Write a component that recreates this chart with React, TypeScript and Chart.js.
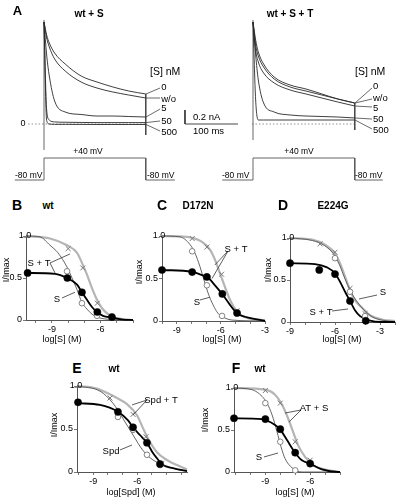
import React, { useEffect, useRef } from 'react';
import { Chart, registerables } from 'chart.js';

Chart.register(...registerables);

const FONT = '"Liberation Sans", Arial, Helvetica, sans-serif';
type Pt = [number, number];

// ================= Panel A data (current traces, nA vs ms) =================
const traceTimesMs = [0, 5, 10, 20, 40, 70, 100, 130, 160, 192];
const concLabels = ['0', 'w/o', '5', '50', '500'];
const wtS_0nM = [1.457, 1.271, 1.157, 1.014, 0.857, 0.686, 0.6, 0.529, 0.471, 0.429];
const wtS_wo = [1.457, 1.229, 1.1, 0.929, 0.757, 0.6, 0.514, 0.457, 0.414, 0.371];
const wtS_5nM = [1.457, 0.986, 0.686, 0.329, 0.171, 0.136, 0.114, 0.114, 0.107, 0.1];
const wtS_50nM = [1.457, 0.2, 0.057, 0.03, 0.025, 0.022, 0.02, 0.02, 0.02, 0.02];
const wtS_500nM = [1.457, 0.05, 0.0, -0.005, -0.005, -0.006, -0.007, -0.007, -0.007, -0.007];
const wtST_0nM = [1.457, 1.2, 1.029, 0.857, 0.671, 0.557, 0.5, 0.429, 0.357, 0.3];
const wtST_wo = [1.457, 1.129, 0.971, 0.814, 0.643, 0.529, 0.471, 0.414, 0.357, 0.3];
const wtST_5nM = [1.457, 1.057, 0.886, 0.729, 0.586, 0.486, 0.429, 0.371, 0.314, 0.257];
const wtST_50nM = [1.457, 0.986, 0.629, 0.3, 0.171, 0.129, 0.114, 0.107, 0.1, 0.086];
const wtST_500nM = [1.457, 0.343, 0.057, 0.057, 0.057, 0.057, 0.057, 0.057, 0.057, 0.057];
const tailDropNa = [-0.157, -0.086]; // tail current at pulse end (left, right)
const protocolTimesLeft = [-55, 0, 0, 192, 192, 247];
const protocolTimesRight = [-58, 0, 0, 192, 192, 245];
const protocolMv = [-80, -80, 40, 40, -80, -80];
const scaleBarMs = 100;
const scaleBarNa = 0.2;

// ================= Dose-response data (log[S] M, I/Imax) =================
const B_filled: Pt[] = [[-10.5, 0.56], [-8.05, 0.5], [-7.15, 0.33], [-6.2, 0.095], [-5.3, 0.036]];
const B_cross: Pt[] = [[-8.0, 0.85], [-7.1, 0.62], [-6.2, 0.2], [-5.3, 0.03]];
const B_open: Pt[] = [[-8.07, 0.58], [-7.15, 0.2], [-6.22, 0.05]];
const B_fitBlack: Pt[] = [[-10.6, 0.56], [-8.8, 0.55], [-8.07, 0.5], [-7.45, 0.42], [-7.15, 0.33], [-6.84, 0.24], [-6.53, 0.155], [-6.22, 0.095], [-5.85, 0.05], [-5.29, 0.03], [-4.62, 0.005], [-4.0, 0]];
const B_fitGray: Pt[] = [[-10.6, 1.0], [-9.12, 0.97], [-8.07, 0.89], [-7.45, 0.8], [-7.15, 0.68], [-6.84, 0.54], [-6.53, 0.38], [-6.22, 0.24], [-5.91, 0.14], [-5.6, 0.08], [-5.23, 0.035], [-4.62, 0.01], [-4.0, 0]];
const B_fitThin: Pt[] = [[-10.6, 1.0], [-9.74, 0.99], [-9.12, 0.89], [-8.63, 0.8], [-8.07, 0.63], [-7.76, 0.5], [-7.45, 0.36], [-7.15, 0.21], [-6.84, 0.13], [-6.53, 0.07], [-6.22, 0.035], [-5.6, 0.01], [-4.0, 0]];

const C_filled: Pt[] = [[-10, 0.6], [-7.95, 0.576], [-6.95, 0.518], [-5.9, 0.318], [-4.9, 0.094]];
const C_cross: Pt[] = [[-7.95, 0.97], [-6.95, 0.87], [-5.95, 0.55], [-4.9, 0.12]];
const C_open: Pt[] = [[-7.95, 0.82], [-6.95, 0.42], [-5.92, 0.06]];
const C_fitBlack: Pt[] = [[-10, 0.6], [-7.96, 0.58], [-7.28, 0.54], [-6.94, 0.52], [-6.4, 0.42], [-5.92, 0.32], [-5.38, 0.19], [-4.9, 0.09], [-4.36, 0.05], [-3.54, 0.02], [-3, 0]];
const C_fitGray: Pt[] = [[-10, 1.0], [-8.3, 0.99], [-7.28, 0.93], [-6.74, 0.84], [-6.4, 0.72], [-6.06, 0.56], [-5.72, 0.4], [-5.38, 0.25], [-4.9, 0.11], [-4.22, 0.035], [-3.13, 0.01], [-3, 0.005]];
const C_fitThin: Pt[] = [[-10, 1.0], [-8.78, 0.99], [-8.1, 0.9], [-7.76, 0.8], [-7.42, 0.64], [-7.14, 0.48], [-6.87, 0.33], [-6.53, 0.19], [-6.19, 0.09], [-5.72, 0.035], [-5.17, 0.01], [-3, 0]];

const D_filled: Pt[] = [[-9, 0.7], [-7.05, 0.62], [-6, 0.57], [-5, 0.25], [-3.95, 0.015]];
const D_cross: Pt[] = [[-7, 0.93], [-6, 0.83], [-5, 0.4], [-4, 0.1]];
const D_open: Pt[] = [[-6, 0.76], [-5, 0.36], [-4, 0.07]];
const D_fitBlack: Pt[] = [[-9, 0.7], [-7.33, 0.69], [-6.53, 0.65], [-6, 0.58], [-5.67, 0.48], [-5.33, 0.36], [-5, 0.25], [-4.67, 0.14], [-4.33, 0.07], [-3.73, 0.02], [-2.87, 0], [-2, 0]];
const D_fitGray: Pt[] = [[-9, 1.0], [-7.53, 0.98], [-6.67, 0.92], [-6.07, 0.83], [-5.67, 0.7], [-5.33, 0.54], [-5, 0.38], [-4.67, 0.26], [-4.2, 0.17], [-3.67, 0.08], [-2.87, 0.03], [-2, 0.01]];
const D_fitThin: Pt[] = [[-9, 1.0], [-7.5, 0.97], [-6.7, 0.91], [-6.1, 0.81], [-5.7, 0.68], [-5.35, 0.52], [-5.0, 0.38], [-4.6, 0.26], [-4.1, 0.15], [-3.5, 0.06], [-2.8, 0.02], [-2, 0.005]];

const E_filled: Pt[] = [[-10.03, 0.81], [-7.31, 0.7], [-6.28, 0.52], [-5.33, 0.34], [-4.44, 0.093]];
const E_cross: Pt[] = [[-7.85, 0.86], [-6.28, 0.67], [-5.4, 0.41], [-4.31, 0.1]];
const E_open: Pt[] = [[-7.31, 0.64], [-6.28, 0.49], [-5.33, 0.2], [-4.44, 0.08]];
const E_fitBlack: Pt[] = [[-10.1, 0.8], [-8.53, 0.78], [-7.31, 0.7], [-6.62, 0.6], [-6.28, 0.52], [-5.81, 0.43], [-5.33, 0.34], [-4.92, 0.22], [-4.65, 0.16], [-4.24, 0.08], [-3.56, 0.045], [-2.6, 0.01]];
const E_fitGray: Pt[] = [[-10.1, 1.0], [-8.74, 0.97], [-7.37, 0.86], [-6.69, 0.79], [-6.01, 0.66], [-5.6, 0.51], [-5.26, 0.39], [-4.65, 0.23], [-3.97, 0.14], [-3.28, 0.08], [-2.6, 0.03]];
const E_fitThin: Pt[] = [[-10.1, 1.0], [-8.53, 0.94], [-7.65, 0.8], [-6.96, 0.62], [-6.28, 0.43], [-5.6, 0.25], [-4.92, 0.14], [-3.97, 0.07], [-3.08, 0.02], [-2.6, 0.01]];

const F_filled: Pt[] = [[-11.1, 0.64], [-9, 0.63], [-8, 0.51], [-7, 0.23], [-6, 0.1]];
const F_cross: Pt[] = [[-9, 0.97], [-8, 0.82], [-7, 0.36], [-6, 0.14]];
const F_open: Pt[] = [[-9, 0.82], [-8, 0.36], [-7, 0.02]];
const F_fitBlack: Pt[] = [[-11.1, 0.64], [-9.22, 0.63], [-8.35, 0.56], [-8.02, 0.51], [-7.55, 0.38], [-7.01, 0.23], [-6.55, 0.14], [-6.01, 0.1], [-5.21, 0.03], [-4.13, 0], [-4, 0]];
const F_fitGray: Pt[] = [[-11.1, 1.0], [-9.02, 0.98], [-8.35, 0.92], [-7.88, 0.8], [-7.48, 0.64], [-7.15, 0.48], [-6.81, 0.32], [-6.34, 0.18], [-5.81, 0.08], [-5.0, 0.03], [-4.0, 0]];
const F_fitThin: Pt[] = [[-11.1, 1.0], [-9.89, 0.98], [-9.22, 0.9], [-8.89, 0.82], [-8.55, 0.68], [-8.22, 0.48], [-7.95, 0.3], [-7.68, 0.16], [-7.21, 0.05], [-6.55, 0], [-4.0, 0]];

// ================= helpers =================
type Note = { text: string; x: number; y: number; dx?: number; dy?: number; size?: number; align?: CanvasTextAlign; rot?: number; yAxis?: string };
type Leader = { pts: Pt[]; yAxis?: string; color?: string; width?: number; dash?: number[] };

function notesPlugin(texts: Note[], leaders: Leader[]) {
  return {
    id: 'notes',
    afterDatasetsDraw(chart: any) {
      const ctx: CanvasRenderingContext2D = chart.ctx;
      const xs = chart.scales.x;
      for (const l of leaders) {
        const ys = chart.scales[l.yAxis || 'y'];
        ctx.save();
        ctx.strokeStyle = l.color || '#333';
        ctx.lineWidth = l.width || 0.8;
        if (l.dash) ctx.setLineDash(l.dash);
        ctx.beginPath();
        l.pts.forEach((p, i) => {
          const X = xs.getPixelForValue(p[0]);
          const Y = ys.getPixelForValue(p[1]);
          if (i) ctx.lineTo(X, Y); else ctx.moveTo(X, Y);
        });
        ctx.stroke();
        ctx.restore();
      }
      for (const t of texts) {
        const ys = chart.scales[t.yAxis || 'y'];
        const X = xs.getPixelForValue(t.x) + (t.dx || 0);
        const Y = ys.getPixelForValue(t.y) + (t.dy || 0);
        ctx.save();
        ctx.font = `${t.size || 9}px ${FONT}`;
        ctx.fillStyle = '#000';
        ctx.textAlign = t.align || 'center';
        ctx.textBaseline = 'middle';
        ctx.translate(X, Y);
        if (t.rot) ctx.rotate((t.rot * Math.PI) / 180);
        ctx.fillText(t.text, 0, 0);
        ctx.restore();
      }
    },
  };
}

const xy = (pts: Pt[]) => pts.map(([x, y]) => ({ x, y }));
const zipXY = (xs: number[], ys: number[]) => xs.map((x, i) => ({ x, y: ys[i] }));

function lineDS(data: any[], color: string, width: number, extra: any = {}) {
  return {
    data,
    showLine: true,
    borderColor: color,
    borderWidth: width,
    pointRadius: 0,
    cubicInterpolationMode: 'monotone',
    clip: false,
    ...extra,
  };
}

// ================= Panel A layout =================
const A_H = 190;
const PX_PER_MS = 0.53;
const PX_PER_NA = 70;
const Y_PLUS40 = 158;
const Y_MINUS80 = 180;

type TraceSide = {
  canvasLeft: number; width: number; t0X: number; zeroY: number;
  traces: number[][]; protoT: number[]; tail: number;
  labelT: number; leaderEndT: number; labelNa: number[]; leaderEndNa: number[];
  headT: number; plus40T: number; minus80LeftT: number; minus80RightT: number;
  onsetBottom: number; zeroFromT: number; scaleBarT?: number; zeroLabelT?: number;
};

const leftSide: TraceSide = {
  canvasLeft: 0, width: 245, t0X: 44, zeroY: 124,
  traces: [wtS_0nM, wtS_wo, wtS_5nM, wtS_50nM, wtS_500nM],
  protoT: protocolTimesLeft, tail: tailDropNa[0],
  labelT: 221, leaderEndT: 219, labelNa: [0.529, 0.357, 0.229, 0.043, -0.114], leaderEndNa: [0.514, 0.371, 0.214, 0.043, -0.1],
  headT: 200, plus40T: 83, minus80LeftT: -54.7, minus80RightT: 194.3,
  onsetBottom: -0.37, zeroFromT: -30, scaleBarT: 266, zeroLabelT: -39.6,
};
const rightSide: TraceSide = {
  canvasLeft: 200, width: 197, t0X: 253, zeroY: 124,
  traces: [wtST_0nM, wtST_wo, wtST_5nM, wtST_50nM, wtST_500nM],
  protoT: protocolTimesRight, tail: tailDropNa[1],
  labelT: 226.4, leaderEndT: 224.5, labelNa: [0.543, 0.371, 0.229, 0.071, -0.086], leaderEndNa: [0.514, 0.357, 0.243, 0.071, -0.071],
  headT: 192.5, plus40T: 86.8, minus80LeftT: -58.5, minus80RightT: 192.5,
  onsetBottom: -0.23, zeroFromT: -2,
};

function traceConfig(s: TraceSide) {
  const xMin = -(s.t0X - s.canvasLeft) / PX_PER_MS;
  const xMax = (s.canvasLeft + s.width - s.t0X) / PX_PER_MS;
  const yMax = s.zeroY / PX_PER_NA;
  const yMin = -(A_H - s.zeroY) / PX_PER_NA;
  const mvPerPx = 120 / (Y_MINUS80 - Y_PLUS40);
  const vMax = 40 + Y_PLUS40 * mvPerPx;
  const vMin = -80 - (A_H - Y_MINUS80) * mvPerPx;
  const endT = traceTimesMs[traceTimesMs.length - 1];
  const lastVals = s.traces.map((t) => t[t.length - 1]);
  const topVal = Math.max(...s.traces.map((t) => t[0]));

  const datasets: any[] = s.traces.map((tr) => lineDS(zipXY(traceTimesMs, tr), '#2a2a2a', 0.9));
  datasets.push(lineDS([{ x: 0, y: s.onsetBottom }, { x: 0, y: topVal + 0.03 }], '#555', 0.9, { cubicInterpolationMode: 'default' }));
  datasets.push(lineDS([{ x: endT, y: Math.max(...lastVals) }, { x: endT, y: s.tail }], '#444', 0.9, { cubicInterpolationMode: 'default' }));
  datasets.push(lineDS([{ x: s.zeroFromT, y: 0 }, { x: endT, y: 0 }], '#888', 0.9, { borderDash: [1.5, 2], cubicInterpolationMode: 'default' }));
  datasets.push(lineDS(zipXY(s.protoT, protocolMv), '#555', 0.9, { yAxisID: 'yV', cubicInterpolationMode: 'default' }));
  if (s.scaleBarT !== undefined) {
    datasets.push(lineDS([
      { x: s.scaleBarT, y: scaleBarNa }, { x: s.scaleBarT, y: 0 }, { x: s.scaleBarT + scaleBarMs, y: 0 },
    ], '#333', 0.9, { cubicInterpolationMode: 'default' }));
  }

  const texts: Note[] = [
    { text: '[S] nM', x: s.headT, y: 0.743, size: 10.5, align: 'left' },
    ...concLabels.map((c, i) => ({ text: c, x: s.labelT, y: s.labelNa[i], size: 9.5, align: 'left' as CanvasTextAlign })),
    { text: '+40 mV', x: s.plus40T, y: 72.7, size: 8.5, yAxis: 'yV' },
    { text: '-80 mV', x: s.minus80LeftT, y: -58.2, size: 8.5, align: 'left', yAxis: 'yV' },
    { text: '-80 mV', x: s.minus80RightT, y: -58.2, size: 8.5, align: 'left', yAxis: 'yV' },
  ];
  if (s.zeroLabelT !== undefined) texts.push({ text: '0', x: s.zeroLabelT, y: 0, size: 9 });
  if (s.scaleBarT !== undefined) {
    texts.push({ text: `${scaleBarNa} nA`, x: s.scaleBarT + 15, y: 0.1, size: 9.5, align: 'left' });
    texts.push({ text: `${scaleBarMs} ms`, x: s.scaleBarT + 15, y: -0.1, size: 9.5, align: 'left' });
  }
  const leaders: Leader[] = concLabels.map((_, i) => ({
    pts: [[endT + 0.5, lastVals[i]], [s.leaderEndT, s.leaderEndNa[i]]] as Pt[],
    color: '#444', width: 0.8,
  }));

  return {
    type: 'scatter',
    data: { datasets },
    options: {
      responsive: false, animation: false, devicePixelRatio: 1, events: [],
      layout: { padding: 0, autoPadding: false },
      plugins: { legend: { display: false }, tooltip: { enabled: false } },
      scales: {
        x: { type: 'linear', display: false, min: xMin, max: xMax },
        y: { type: 'linear', display: false, min: yMin, max: yMax },
        yV: { type: 'linear', display: false, min: vMin, max: vMax },
      },
    },
    plugins: [notesPlugin(texts, leaders)],
  };
}

// ================= Dose panels layout =================
type DoseLayout = { axisX: number; xEnd: number; yTop: number; yBot: number; xMin: number; xMax: number; xLabels: number[] };
type DosePanel = {
  L: DoseLayout; filled: Pt[]; cross: Pt[]; open: Pt[]; fitBlack: Pt[]; fitGray: Pt[]; fitThin: Pt[];
  texts: Note[]; leaders: Leader[];
};
const AXW = 36, AXH = 28, PADT = 10, PADR = 8;

const panels: DosePanel[] = [
  {
    L: { axisX: 26, xEnd: 133, yTop: 236, yBot: 320, xMin: -10.6, xMax: -4.0, xLabels: [-9, -6] },
    filled: B_filled, cross: B_cross, open: B_open, fitBlack: B_fitBlack, fitGray: B_fitGray, fitThin: B_fitThin,
    texts: [
      { text: '1.0', x: -10.6, y: 1, dx: -1 },
      { text: 'I/Imax', x: -10.6, y: 0.595, dx: -19, rot: -90 },
      { text: 'log[S] (M)', x: -8.38, y: 0, dy: 20 },
      { text: 'S + T', x: -9.8, y: 0.679, size: 9.5 },
      { text: 'S', x: -8.69, y: 0.25, size: 9.5 },
    ],
    leaders: [
      { pts: [[-9.12, 0.679], [-7.89, 0.786]] },
      { pts: [[-9.12, 0.679], [-8.81, 0.56]] },
      { pts: [[-8.38, 0.262], [-7.58, 0.33]] },
    ],
  },
  {
    L: { axisX: 162, xEnd: 265, yTop: 236, yBot: 321, xMin: -10, xMax: -3, xLabels: [-9, -6, -3] },
    filled: C_filled, cross: C_cross, open: C_open, fitBlack: C_fitBlack, fitGray: C_fitGray, fitThin: C_fitThin,
    texts: [
      { text: '1.0', x: -10, y: 1, dx: -3 },
      { text: 'I/Imax', x: -10, y: 0.576, dx: -22, rot: -90 },
      { text: 'log[S] (M)', x: -5.92, y: 0, dy: 19 },
      { text: 'S + T', x: -4.97, y: 0.847, size: 9.5 },
      { text: 'S', x: -7.62, y: 0.224, size: 9.5 },
    ],
    leaders: [
      { pts: [[-5.51, 0.824], [-6.4, 0.66]] },
      { pts: [[-5.51, 0.824], [-6.6, 0.5]] },
      { pts: [[-7.42, 0.247], [-6.74, 0.28]] },
    ],
  },
  {
    L: { axisX: 290, xEnd: 395, yTop: 238, yBot: 322, xMin: -9, xMax: -2, xLabels: [-9, -6, -3] },
    filled: D_filled, cross: D_cross, open: D_open, fitBlack: D_fitBlack, fitGray: D_fitGray, fitThin: D_fitThin,
    texts: [
      { text: '1.0', x: -9, y: 1, dx: -2 },
      { text: 'I/Imax', x: -9, y: 0.619, dx: -21, rot: -90 },
      { text: 'log[S] (M)', x: -5.53, y: 0, dy: 18 },
      { text: 'S', x: -2.8, y: 0.357, size: 9.5 },
      { text: 'S + T', x: -6.93, y: 0.119, size: 9.5 },
    ],
    leaders: [
      { pts: [[-4.4, 0.274], [-3.2, 0.321]] },
      { pts: [[-6.2, 0.131], [-5.13, 0.155]] },
    ],
  },
  {
    L: { axisX: 77, xEnd: 187, yTop: 386, yBot: 472, xMin: -10.1, xMax: -2.6, xLabels: [-9, -6] },
    filled: E_filled, cross: E_cross, open: E_open, fitBlack: E_fitBlack, fitGray: E_fitGray, fitThin: E_fitThin,
    texts: [
      { text: '1.0', x: -10.1, y: 1, dx: -1 },
      { text: 'I/Imax', x: -10.1, y: 0.547, dx: -22, rot: -90 },
      { text: 'log[Spd] (M)', x: -6.42, y: 0, dy: 21 },
      { text: 'Spd + T', x: -4.37, y: 0.837, size: 9.5 },
      { text: 'Spd', x: -7.78, y: 0.244, size: 9.5 },
    ],
    leaders: [
      { pts: [[-5.33, 0.837], [-6.35, 0.78]] },
      { pts: [[-5.33, 0.837], [-6.28, 0.663]] },
      { pts: [[-7.17, 0.256], [-6.35, 0.314]] },
    ],
  },
  {
    L: { axisX: 234, xEnd: 340, yTop: 388, yBot: 472, xMin: -11.1, xMax: -4.0, xLabels: [-9, -6] },
    filled: F_filled, cross: F_cross, open: F_open, fitBlack: F_fitBlack, fitGray: F_fitGray, fitThin: F_fitThin,
    texts: [
      { text: '1.0', x: -11.1, y: 1, dx: -2 },
      { text: 'I/Imax', x: -11.1, y: 0.619, dx: -28, rot: -90 },
      { text: 'log[S] (M)', x: -7.01, y: 0, dy: 21 },
      { text: 'AT + S', x: -5.74, y: 0.762, size: 9.5 },
      { text: 'S', x: -9.43, y: 0.179, size: 9.5 },
    ],
    leaders: [
      { pts: [[-6.61, 0.738], [-7.68, 0.702]] },
      { pts: [[-6.61, 0.738], [-7.42, 0.595]] },
      { pts: [[-9.09, 0.179], [-8.15, 0.226]] },
    ],
  },
];

function doseRect(L: DoseLayout) {
  return {
    left: L.axisX - AXW,
    top: L.yTop - PADT,
    width: AXW + (L.xEnd - L.axisX) + PADR,
    height: PADT + (L.yBot - L.yTop) + AXH,
  };
}

function doseConfig(p: DosePanel) {
  const L = p.L;
  const tickFont = { family: FONT, size: 9 };
  const grid = { drawOnChartArea: false, drawTicks: true, tickLength: 3, color: '#555', lineWidth: 0.8 };
  const border = { display: true, color: '#555', width: 1 };
  return {
    type: 'scatter',
    data: {
      datasets: [
        { data: xy(p.filled), showLine: false, pointRadius: 3.6, pointBackgroundColor: '#000', pointBorderColor: '#000', pointBorderWidth: 0.5, clip: false },
        { data: xy(p.open), showLine: false, pointStyle: 'circle', pointRadius: 2.8, pointBackgroundColor: '#fff', pointBorderColor: '#777', pointBorderWidth: 0.9, clip: false },
        { data: xy(p.cross), showLine: false, pointStyle: 'crossRot', pointRadius: 3.5, pointBorderColor: '#777', pointBorderWidth: 1, clip: false },
        lineDS(xy(p.fitBlack), '#000', 1.8),
        lineDS(xy(p.fitThin), '#555', 0.9),
        lineDS(xy(p.fitGray), '#b5b5b5', 2.2),
      ],
    },
    options: {
      responsive: false, animation: false, devicePixelRatio: 1, events: [],
      layout: { padding: { top: PADT, right: PADR, left: 0, bottom: 0 }, autoPadding: false },
      plugins: { legend: { display: false }, tooltip: { enabled: false } },
      scales: {
        x: {
          type: 'linear', min: L.xMin, max: L.xMax,
          afterFit: (s: any) => { s.height = AXH; },
          ticks: {
            stepSize: 1, includeBounds: false, autoSkip: false, maxRotation: 0, minRotation: 0,
            padding: 1, color: '#000', font: tickFont,
            callback: (v: any) => {
              const r = Math.round(v);
              return Math.abs(v - r) < 1e-6 && L.xLabels.includes(r) ? String(r) : '';
            },
          },
          grid, border,
        },
        y: {
          type: 'linear', min: 0, max: 1,
          afterFit: (s: any) => { s.width = AXW; },
          ticks: {
            stepSize: 0.5, padding: 1, color: '#000', font: tickFont,
            callback: (v: any) => (Math.abs(v) < 1e-6 ? '0' : Math.abs(v - 0.5) < 1e-6 ? '0.5' : ''),
          },
          grid, border,
        },
      },
    },
    plugins: [notesPlugin(p.texts, p.leaders)],
  };
}

// ================= components =================
function ChartBox({ left, top, width, height, make }: { left: number; top: number; width: number; height: number; make: () => any }) {
  const ref = useRef<HTMLCanvasElement>(null);
  useEffect(() => {
    const chart = new Chart(ref.current as HTMLCanvasElement, make());
    return () => chart.destroy();
  }, []);
  return (
    <canvas
      ref={ref}
      width={width}
      height={height}
      style={{ position: 'absolute', left, top, width, height }}
    />
  );
}

const headings = [
  { text: 'A', x: 17.5, y: 10, size: 13 },
  { text: 'wt + S', x: 89, y: 14, size: 10 },
  { text: 'wt + S + T', x: 290, y: 14, size: 10 },
  { text: 'B', x: 17, y: 205, size: 14 },
  { text: 'wt', x: 48, y: 206, size: 10 },
  { text: 'C', x: 162, y: 205, size: 14 },
  { text: 'D172N', x: 198, y: 206, size: 10 },
  { text: 'D', x: 283, y: 205, size: 14 },
  { text: 'E224G', x: 333, y: 206, size: 10 },
  { text: 'E', x: 77, y: 368, size: 14 },
  { text: 'wt', x: 114, y: 369, size: 10 },
  { text: 'F', x: 236, y: 368, size: 14 },
  { text: 'wt', x: 260, y: 369, size: 10 },
];

export default function App() {
  return (
    <div
      style={{
        position: 'fixed', left: 0, top: 0, width: 397, height: 499,
        overflow: 'hidden', background: '#fff', fontFamily: FONT,
      }}
    >
      <ChartBox left={leftSide.canvasLeft} top={0} width={leftSide.width} height={A_H} make={() => traceConfig(leftSide)} />
      <ChartBox left={rightSide.canvasLeft} top={0} width={rightSide.width} height={A_H} make={() => traceConfig(rightSide)} />
      {panels.map((p, i) => {
        const r = doseRect(p.L);
        return <ChartBox key={i} left={r.left} top={r.top} width={r.width} height={r.height} make={() => doseConfig(p)} />;
      })}
      {headings.map((h, i) => (
        <div
          key={i}
          style={{
            position: 'absolute', left: h.x, top: h.y, transform: 'translate(-50%, -50%)',
            fontSize: h.size, fontWeight: 'bold', lineHeight: 1, whiteSpace: 'nowrap', color: '#000',
          }}
        >
          {h.text}
        </div>
      ))}
    </div>
  );
}
